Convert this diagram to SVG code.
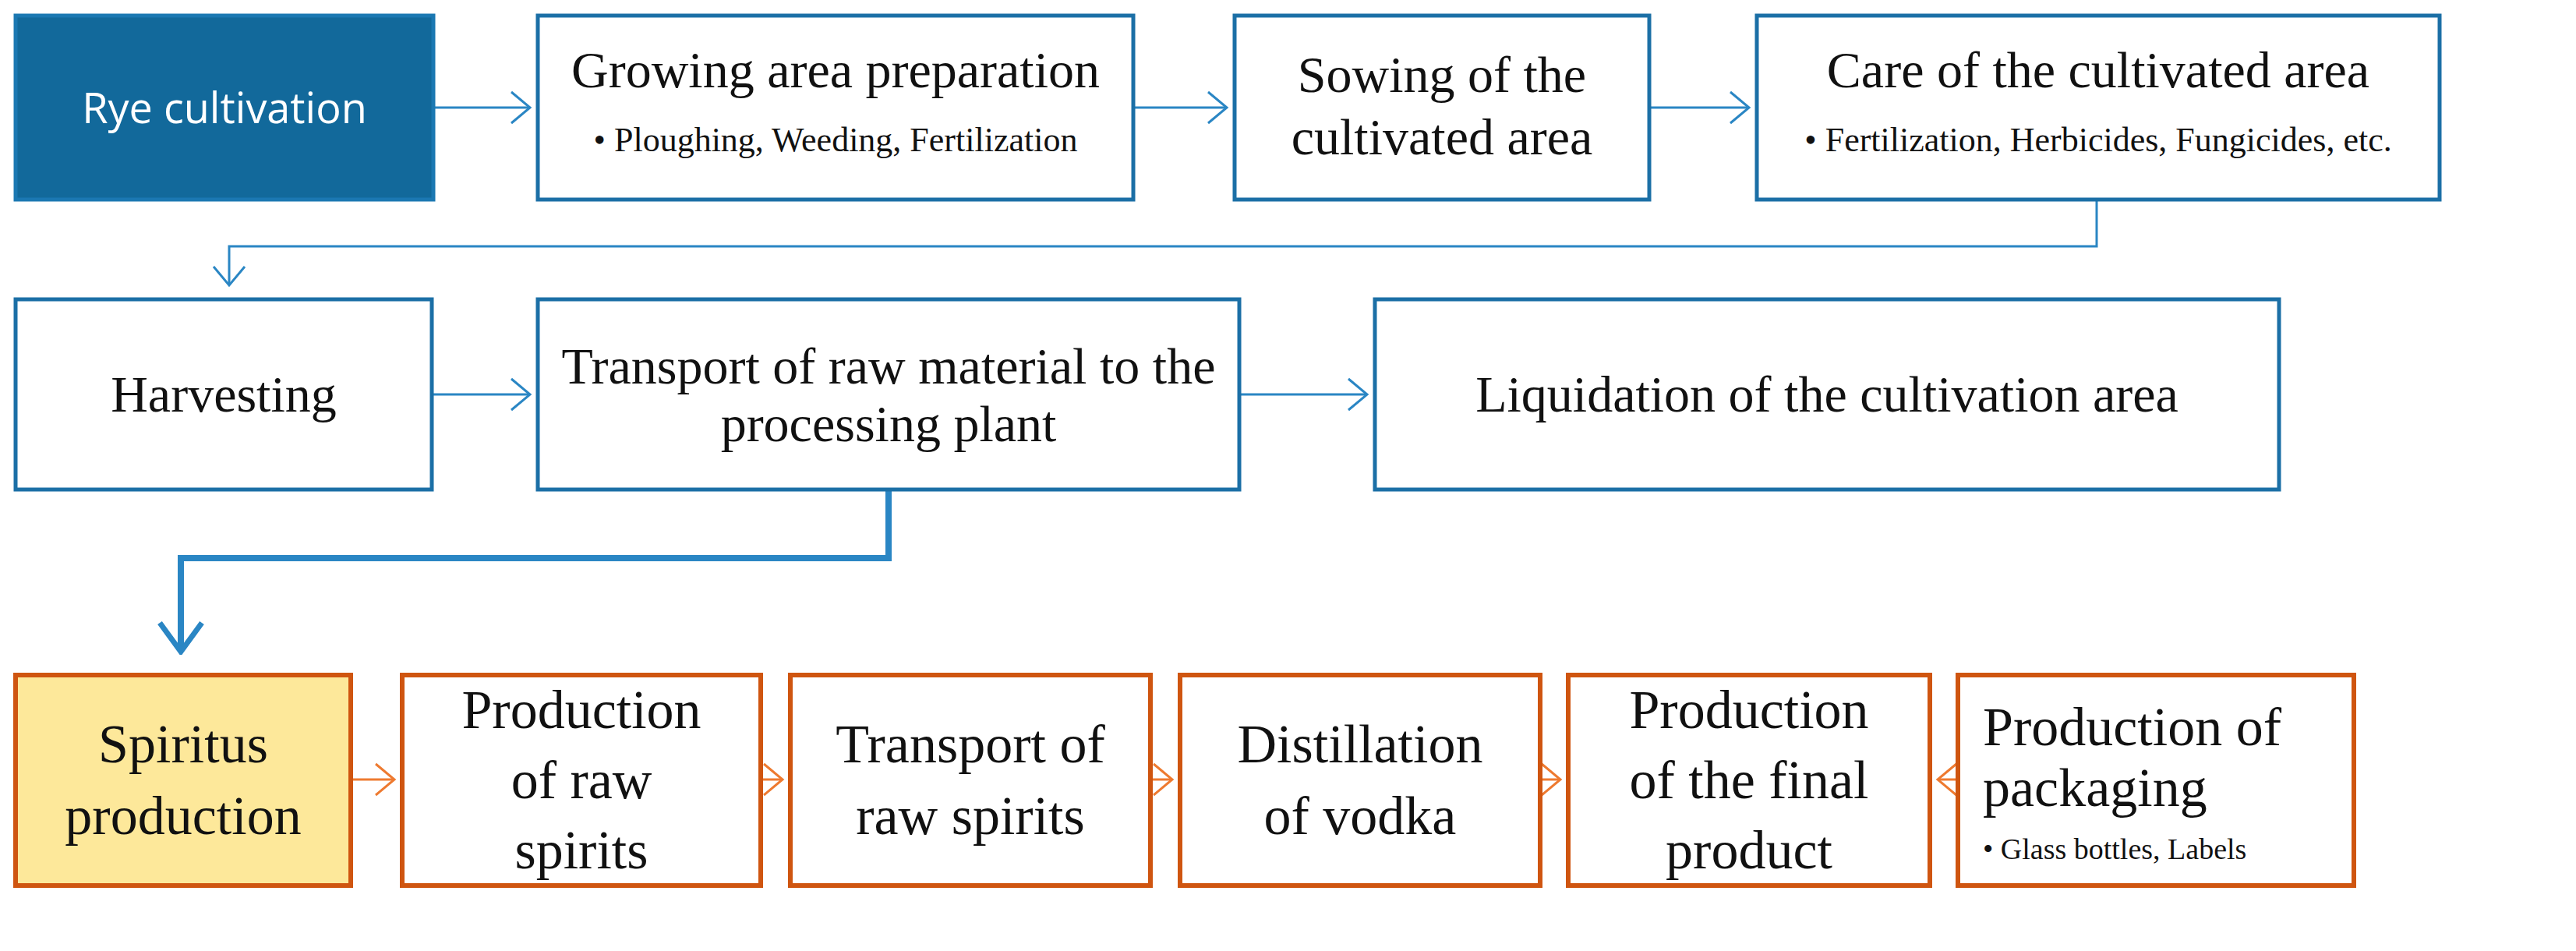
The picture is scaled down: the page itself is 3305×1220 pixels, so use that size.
<svg xmlns="http://www.w3.org/2000/svg" width="3305" height="1220" viewBox="0 0 3305 1220">
<style>
.b{fill:#fff;stroke:#1b6fa6;stroke-width:5}
.o{fill:#fff;stroke:#cf5510;stroke-width:6}
.t{font-family:"Liberation Serif","DejaVu Serif",serif;font-size:66px;fill:#111;text-anchor:middle}
.r{font-family:"Liberation Serif","DejaVu Serif",serif;font-size:70px;fill:#111;text-anchor:middle}
.s{font-family:"Liberation Serif","DejaVu Serif",serif;font-size:44px;fill:#111;text-anchor:middle}
.cb{fill:none;stroke:#2a86c4;stroke-width:3}
.co{fill:none;stroke:#ee7a30;stroke-width:3}
</style>
<defs>
<marker id="ab" markerUnits="userSpaceOnUse" markerWidth="30" markerHeight="44" refX="26" refY="22" orient="auto"><path d="M2,2 L26,22 L2,42" fill="none" stroke="#2a86c4" stroke-width="3"/></marker>
<marker id="abb" markerUnits="userSpaceOnUse" markerWidth="44" markerHeight="60" refX="40" refY="30" orient="auto"><path d="M3,3 L40,30 L3,57" fill="none" stroke="#2a86c4" stroke-width="7"/></marker>
<marker id="ao" markerUnits="userSpaceOnUse" markerWidth="30" markerHeight="44" refX="26" refY="22" orient="auto"><path d="M2,2 L26,22 L2,42" fill="none" stroke="#ee7a30" stroke-width="3"/></marker>
</defs>
<rect width="3305" height="1220" fill="#fff"/>
<g id="connectors">
<line class="cb" x1="556" y1="138" x2="680" y2="138" marker-end="url(#ab)"/>
<line class="cb" x1="1454" y1="138" x2="1574" y2="138" marker-end="url(#ab)"/>
<line class="cb" x1="2116" y1="138" x2="2244" y2="138" marker-end="url(#ab)"/>
<polyline class="cb" points="2690,256 2690,316 294,316 294,366" marker-end="url(#ab)"/>
<line class="cb" x1="554" y1="506" x2="680" y2="506" marker-end="url(#ab)"/>
<line class="cb" x1="1590" y1="506" x2="1754" y2="506" marker-end="url(#ab)"/>
<polyline points="1140,628 1140,716 232,716 232,836" fill="none" stroke="#2a86c4" stroke-width="8" marker-end="url(#abb)"/>
<line class="co" x1="450" y1="1000" x2="506" y2="1000" marker-end="url(#ao)"/>
<line class="co" x1="976" y1="1000" x2="1004" y2="1000" marker-end="url(#ao)"/>
<line class="co" x1="1476" y1="1000" x2="1504" y2="1000" marker-end="url(#ao)"/>
<line class="co" x1="1976" y1="1000" x2="2002" y2="1000" marker-end="url(#ao)"/>
<line class="co" x1="2512" y1="1000" x2="2486" y2="1000" marker-end="url(#ao)"/>
</g>
<g id="rye"><rect x="20" y="20" width="536" height="236" fill="#12699b" stroke="#1b78b2" stroke-width="5"/><text x="288" y="158" font-family="'Open Sans','Liberation Sans',sans-serif" font-size="54" fill="#fff" text-anchor="middle">Rye cultivation</text></g>
<g id="growing"><rect class="b" x="690" y="20" width="764" height="236"/><text class="t" x="1072" y="112">Growing area preparation</text><text class="s" x="1072" y="194">• Ploughing,  Weeding,  Fertilization</text></g>
<g id="sowing"><rect class="b" x="1584" y="20" width="532" height="236"/><text class="t" x="1850" y="118">Sowing of the</text><text class="t" x="1850" y="198">cultivated area</text></g>
<g id="care"><rect class="b" x="2254" y="20" width="876" height="236"/><text class="t" x="2692" y="112">Care of the cultivated area</text><text class="s" x="2692" y="194">• Fertilization, Herbicides, Fungicides, etc.</text></g>
<g id="harvesting"><rect class="b" x="20" y="384" width="534" height="244"/><text class="t" x="287" y="528">Harvesting</text></g>
<g id="transport"><rect class="b" x="690" y="384" width="900" height="244"/><text class="t" x="1140" y="492">Transport of raw material to the</text><text class="t" x="1140" y="566">processing plant</text></g>
<g id="liquidation"><rect class="b" x="1764" y="384" width="1160" height="244"/><text class="t" x="2344" y="528">Liquidation of the cultivation area</text></g>
<g id="spiritus"><rect x="20" y="866" width="430" height="270" fill="#fde89a" stroke="#cf5510" stroke-width="6"/><text class="r" x="235" y="978">Spiritus</text><text class="r" x="235" y="1070">production</text></g>
<g id="prodraw"><rect class="o" x="516" y="866" width="460" height="270"/><text class="r" x="746" y="934">Production</text><text class="r" x="746" y="1024">of raw</text><text class="r" x="746" y="1114">spirits</text></g>
<g id="transraw"><rect class="o" x="1014" y="866" width="462" height="270"/><text class="r" x="1245" y="978">Transport of</text><text class="r" x="1245" y="1070">raw spirits</text></g>
<g id="distill"><rect class="o" x="1514" y="866" width="462" height="270"/><text class="r" x="1745" y="978">Distillation</text><text class="r" x="1745" y="1070">of vodka</text></g>
<g id="final"><rect class="o" x="2012" y="866" width="464" height="270"/><text class="r" x="2244" y="934">Production</text><text class="r" x="2244" y="1024">of the final</text><text class="r" x="2244" y="1114">product</text></g>
<g id="packaging"><rect class="o" x="2512" y="866" width="508" height="270"/><text class="r" x="2544" y="956" style="text-anchor:start">Production of</text><text class="r" x="2544" y="1034" style="text-anchor:start">packaging</text><text class="s" x="2544" y="1102" style="text-anchor:start;font-size:38px">• Glass bottles, Labels</text></g>
</svg>
